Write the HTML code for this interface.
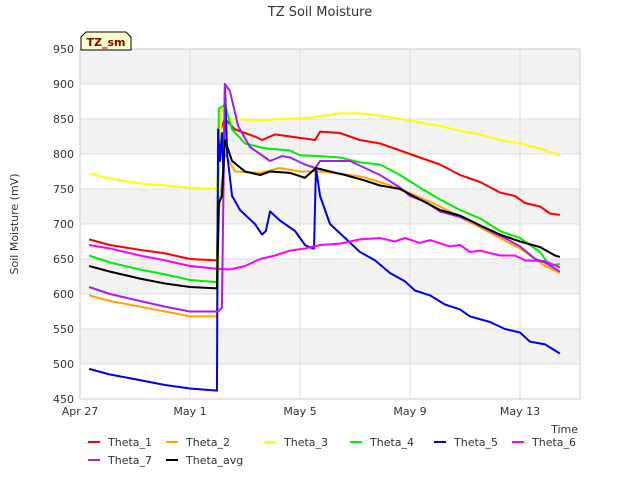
<!DOCTYPE html>
<html><head><meta charset="utf-8"><style>
body{margin:0;background:#fff;font-family:"Liberation Sans","DejaVu Sans",sans-serif}
svg text{font-family:"DejaVu Sans","Liberation Sans",sans-serif}
</style></head><body>
<svg id="chart" width="640" height="480" xmlns="http://www.w3.org/2000/svg"></svg>
<script>
const yTicks=[450,500,550,600,650,700,750,800,850,900,950];
const xTickDays=[0,4,8,12,16];
const xTickLabels=["Apr 27","May 1","May 5","May 9","May 13"];
const seriesNames=["Theta_1","Theta_2","Theta_3","Theta_4","Theta_5","Theta_6","Theta_7","Theta_avg"];
const seriesColors=["#ff0000","#ffa500","#ffff00","#00ee00","#0000ee","#ff00ff","#a020f0","#000000"];
const theta1=[[0.33,678],[1.09,670],[2.18,663],[3.09,658],[4.0,650],[4.98,648],[5.05,830],[5.27,850],[5.64,835],[6.36,825],[6.62,820],[7.09,828],[7.64,825],[8.55,820],[8.73,832],[9.45,830],[10.18,820],[10.91,815],[11.64,805],[12.36,795],[13.09,785],[13.82,770],[14.55,760],[15.27,745],[15.82,740],[16.18,730],[16.73,725],[17.09,715],[17.45,713]];
const theta2=[[0.33,598],[1.09,590],[2.18,582],[3.09,575],[4.0,568],[4.98,568],[5.05,720],[5.27,800],[5.64,775],[6.55,773],[7.27,780],[8.0,775],[8.73,775],[9.45,772],[10.18,768],[10.91,760],[11.64,750],[12.36,738],[13.09,725],[13.82,710],[14.55,695],[15.27,680],[16.0,665],[16.55,650],[16.91,640],[17.45,630]];
const theta3=[[0.33,772],[1.09,765],[2.18,758],[3.09,755],[4.0,752],[4.98,750],[5.16,865],[5.45,850],[6.55,848],[7.27,850],[8.36,852],[9.45,858],[10.18,858],[10.91,855],[11.64,850],[12.36,845],[13.09,840],[13.82,833],[14.55,828],[15.27,820],[16.0,815],[16.73,808],[17.45,798]];
const theta4=[[0.33,655],[1.09,645],[2.18,635],[3.09,628],[4.0,620],[4.98,617],[5.05,865],[5.27,870],[5.53,835],[6.0,815],[6.73,808],[7.64,805],[8.0,798],[8.73,797],[9.45,795],[10.18,788],[10.91,785],[11.64,770],[12.36,752],[13.09,735],[13.82,720],[14.55,708],[15.27,690],[16.0,680],[16.73,660],[17.09,640],[17.45,643]];
const theta5=[[0.33,493],[1.09,485],[2.18,477],[3.09,470],[4.0,465],[4.98,462],[5.02,835],[5.09,790],[5.16,830],[5.22,770],[5.27,900],[5.35,800],[5.53,740],[5.82,720],[6.36,700],[6.62,685],[6.76,690],[6.91,718],[7.27,705],[7.82,690],[8.18,670],[8.47,665],[8.51,665],[8.58,780],[8.73,740],[9.09,700],[9.64,680],[10.18,660],[10.73,648],[11.27,630],[11.82,618],[12.18,605],[12.73,598],[13.27,585],[13.82,578],[14.18,568],[14.91,560],[15.45,550],[16.0,545],[16.36,532],[16.91,528],[17.45,515]];
const theta6=[[0.33,670],[1.09,665],[2.18,655],[3.09,648],[4.0,640],[4.98,636],[5.45,635],[6.0,640],[6.55,650],[7.09,655],[7.64,662],[8.18,665],[8.73,670],[9.45,672],[10.18,678],[10.91,680],[11.45,675],[11.82,680],[12.36,673],[12.73,677],[13.45,668],[13.82,670],[14.18,660],[14.55,662],[15.27,655],[15.82,655],[16.18,648],[16.91,647],[17.45,638]];
const theta7=[[0.33,610],[1.09,600],[2.18,590],[3.09,582],[4.0,575],[5.02,575],[5.16,580],[5.27,900],[5.45,890],[5.75,840],[6.18,810],[6.73,795],[6.91,790],[7.35,797],[7.64,795],[8.18,785],[8.55,780],[8.73,790],[9.82,790],[10.36,780],[10.91,770],[11.64,752],[12.0,740],[12.55,732],[13.09,718],[13.82,710],[14.18,705],[14.91,690],[15.45,680],[16.0,668],[16.55,650],[16.91,645],[17.45,632]];
const thetaAvg=[[0.33,640],[1.09,632],[2.18,622],[3.09,615],[4.0,610],[4.98,608],[5.05,730],[5.16,740],[5.27,820],[5.53,790],[6.0,775],[6.55,770],[6.91,775],[7.64,773],[8.18,766],[8.58,780],[9.09,775],[9.64,770],[10.36,762],[10.91,755],[11.64,750],[12.36,735],[13.09,720],[13.82,712],[14.55,698],[15.27,685],[16.0,675],[16.73,667],[17.27,655],[17.45,653]];
const seriesData=[theta1,theta2,theta3,theta4,theta5,theta6,theta7,thetaAvg];

const NS="http://www.w3.org/2000/svg";
const svg=document.getElementById('chart');
const L=80,R=580,T=49,B=399,yMin=450,yMax=950;
const xScale=d=>L+d*27.5;
const yScale=v=>T+(yMax-v)*(B-T)/(yMax-yMin);
function mk(tag,attrs,parent){const e=document.createElementNS(NS,tag);for(const k in attrs)e.setAttribute(k,attrs[k]);(parent||svg).appendChild(e);return e;}

const bg=mk('rect',{x:L,y:T,width:R-L,height:B-T,fill:'#ffffff'});


for(let i=0;i<yTicks.length-1;i++){
  if(i%2===1){
    const b=mk('rect',{x:L,y:yScale(yTicks[i+1]),width:R-L,height:yScale(yTicks[i])-yScale(yTicks[i+1]),fill:'#f2f2f2'});
    
    
  }
}
yTicks.forEach(v=>{
  const g=mk('line',{x1:L,x2:R,y1:yScale(v),y2:yScale(v),stroke:'#dddddd','stroke-width':1});
  
  
  const t=mk('text',{x:L-6,y:yScale(v)+4,'text-anchor':'end','font-size':11,fill:'#333'});
  t.textContent=v;
  
  
});
xTickDays.forEach((d,i)=>{
  const g=mk('line',{x1:xScale(d),x2:xScale(d),y1:T,y2:B,stroke:'#dddddd','stroke-width':1});
  
  
  const t=mk('text',{x:xScale(d),y:B+16,'text-anchor':'middle','font-size':11,fill:'#333'});
  t.textContent=xTickLabels[i];
  
  
});
const frame=mk('rect',{x:L,y:T,width:R-L,height:B-T,fill:'none',stroke:'#cccccc'});



seriesData.forEach((s,i)=>{
  const p=mk('polyline',{points:s.map(q=>xScale(q[0])+','+yScale(q[1])).join(' '),fill:'none',stroke:seriesColors[i],'stroke-width':2,'stroke-linejoin':'round'});
  
  
});

const title=mk('text',{x:320,y:16,'text-anchor':'middle','font-size':13,fill:'#333'});
title.textContent='TZ Soil Moisture';


const yt=mk('text',{x:18,y:224,'text-anchor':'middle','font-size':11,fill:'#333',transform:'rotate(-90 18 224)'});
yt.textContent='Soil Moisture (mV)';


const xt=mk('text',{x:578,y:433,'text-anchor':'end','font-size':11,fill:'#333'});
xt.textContent='Time';



const tagG=mk('g',{});


mk('path',{d:'M81,50 L81,37 L86,32 L126,32 L131,37 L131,50 Z',fill:'#ffffcc',stroke:'#000','stroke-width':1},tagG);
const tt=mk('text',{x:106,y:46,'text-anchor':'middle','font-size':11,'font-weight':'bold',fill:'#8b0000'},tagG);
tt.textContent='TZ_sm';

const legPos=[[88,442],[166,442],[264,442],[350,442],[434,442],[512,442],[88,460],[166,460]];
seriesNames.forEach((n,i)=>{
  const g=mk('g',{});
  
  
  const [x,y]=legPos[i];
  mk('line',{x1:x,x2:x+12,y1:y,y2:y,stroke:seriesColors[i],'stroke-width':2},g);
  const t=mk('text',{x:x+20,y:y+4,'font-size':11,fill:'#333'},g);
  t.textContent=n;
});
</script>
</body></html>
